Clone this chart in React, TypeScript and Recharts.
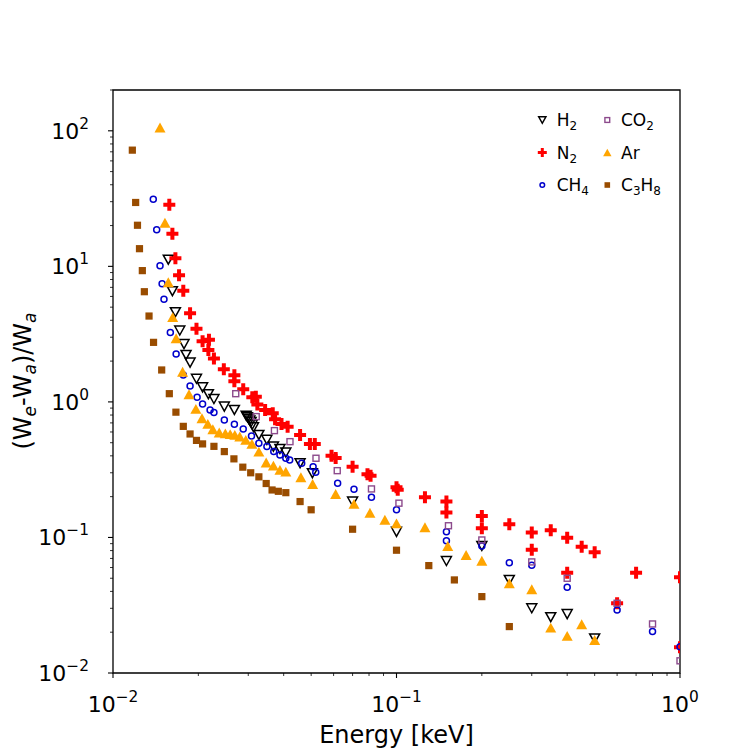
import React from "react";
import { ScatterChart, Scatter, XAxis, YAxis, ReferenceArea, Legend } from "recharts";

// energy [keV], (We-Wa)/Wa
const h2: [number, number][] = [
  [0.01567, 11.2], [0.0162, 6.56], [0.0166, 4.59], [0.0172, 3.36], [0.0178, 2.67], [0.0181, 2.22],
  [0.0187, 1.95], [0.0197, 1.48], [0.0207, 1.28], [0.0217, 1.14], [0.0227, 1.05], [0.0247, 0.923],
  [0.0268, 0.873], [0.0295, 0.79], [0.0298, 0.77], [0.0301, 0.75], [0.0304, 0.73], [0.0307, 0.71],
  [0.031, 0.68], [0.0313, 0.65], [0.0327, 0.571], [0.0349, 0.525], [0.0368, 0.468], [0.0388, 0.45],
  [0.0407, 0.423], [0.0457, 0.353], [0.0505, 0.298], [0.07, 0.184], [0.1, 0.11], [0.15, 0.067],
  [0.2, 0.0865], [0.25, 0.0486], [0.3, 0.03], [0.35, 0.0258], [0.4, 0.0272], [0.5, 0.018],
];

const n2: [number, number][] = [
  [0.0158, 28.5], [0.0162, 17.4], [0.0166, 11.5], [0.0171, 8.6], [0.0177, 6.6], [0.0187, 4.5],
  [0.0197, 3.46], [0.0207, 2.8], [0.0218, 2.87], [0.0217, 2.42], [0.0227, 2.09], [0.0246, 1.74],
  [0.0268, 1.57], [0.0268, 1.42], [0.0288, 1.24], [0.031, 1.08], [0.0319, 1.09], [0.0323, 0.955],
  [0.0344, 0.873], [0.0366, 0.826], [0.0373, 0.745], [0.0393, 0.688], [0.0413, 0.657], [0.0457, 0.571],
  [0.0495, 0.49], [0.0515, 0.49], [0.059, 0.4], [0.061, 0.385], [0.07, 0.333], [0.079, 0.292],
  [0.081, 0.285], [0.1, 0.235], [0.101, 0.225], [0.126, 0.198], [0.15, 0.184], [0.15, 0.153],
  [0.2, 0.144], [0.2, 0.117], [0.25, 0.125], [0.3, 0.109], [0.3, 0.081], [0.35, 0.113],
  [0.4, 0.0997], [0.4, 0.055], [0.45, 0.0855], [0.5, 0.0778], [0.6, 0.0327], [0.7, 0.055],
  [1.0, 0.0508], [1.0, 0.0155],
];

const ch4: [number, number][] = [
  [0.01387, 31.3], [0.01426, 18.6], [0.01465, 10.1], [0.0149, 7.43], [0.01513, 5.73], [0.01593, 3.25],
  [0.0167, 2.26], [0.0177, 1.58], [0.0187, 1.31], [0.0198, 1.08], [0.0207, 0.967], [0.022, 0.873],
  [0.0227, 0.834], [0.0247, 0.736], [0.0268, 0.685], [0.0288, 0.632], [0.0308, 0.561], [0.0327, 0.496],
  [0.0349, 0.468], [0.0369, 0.43], [0.0388, 0.406], [0.0407, 0.384], [0.042, 0.373], [0.0463, 0.353],
  [0.0508, 0.333], [0.0519, 0.303], [0.062, 0.251], [0.0708, 0.227], [0.0816, 0.198], [0.1, 0.16],
  [0.15, 0.11], [0.15, 0.0947], [0.2, 0.0865], [0.25, 0.0652], [0.3, 0.0624], [0.4, 0.0429],
  [0.6, 0.0292], [0.8, 0.0202], [1.0, 0.0156],
];

const co2: [number, number][] = [
  [0.0271, 1.15], [0.032, 0.779], [0.0371, 0.614], [0.0421, 0.509], [0.052, 0.384], [0.0618, 0.311],
  [0.0816, 0.228], [0.102, 0.179], [0.1525, 0.122], [0.2, 0.0958], [0.3, 0.066], [0.4, 0.05],
  [0.6, 0.0327], [0.8, 0.023], [1.0, 0.0123],
];

const ar: [number, number][] = [
  [0.01465, 105.7], [0.01525, 21], [0.01567, 7.64], [0.01624, 4.22], [0.0167, 2.95], [0.0176, 1.67],
  [0.01854, 1.14], [0.0196, 0.888], [0.0206, 0.758], [0.0216, 0.688], [0.0225, 0.629], [0.0237, 0.594],
  [0.0249, 0.586], [0.0259, 0.578], [0.0269, 0.571], [0.028, 0.555], [0.0294, 0.525], [0.0309, 0.49],
  [0.0327, 0.43], [0.0347, 0.357], [0.0368, 0.339], [0.0388, 0.315], [0.0407, 0.306], [0.046, 0.278],
  [0.0506, 0.248], [0.061, 0.209], [0.0708, 0.177], [0.0806, 0.152], [0.091, 0.135], [0.1, 0.127],
  [0.126, 0.119], [0.1516, 0.0865], [0.176, 0.0743], [0.2, 0.0674], [0.25, 0.0459], [0.3, 0.0415],
  [0.35, 0.0216], [0.4, 0.0188], [0.45, 0.0229], [0.5, 0.0175],
];

const c3h8: [number, number][] = [
  [0.0117, 72], [0.01202, 29.6], [0.0122, 20.1], [0.0124, 13.5], [0.01269, 9.3], [0.0129, 6.5],
  [0.0134, 4.3], [0.0139, 2.75], [0.01485, 1.72], [0.0158, 1.15], [0.01667, 0.84], [0.0177, 0.66],
  [0.0187, 0.58], [0.0197, 0.52], [0.0207, 0.49], [0.0227, 0.47], [0.0247, 0.43], [0.0267, 0.38],
  [0.0287, 0.33], [0.0306, 0.3], [0.0327, 0.28], [0.0347, 0.25], [0.0364, 0.224], [0.0383, 0.219],
  [0.0407, 0.214], [0.0457, 0.184], [0.05, 0.16], [0.07, 0.115], [0.1, 0.0805], [0.13, 0.062],
  [0.16, 0.0486], [0.2, 0.0366], [0.25, 0.022],
];

const xDecades = [0.01, 0.1, 1];
const yDecades = [0.01, 0.1, 1, 10, 100];
const minorSteps = [2, 3, 4, 5, 6, 7, 8, 9];
const xDomain = [0.01, 1];
const yDomain = [0.01, 200];

const FONT = "DejaVu Sans";
const C = { h2: "#000000", n2: "#ff0000", ch4: "#0000cc", co2: "#8c4a8c", ar: "#ffa500", c3h8: "#994c00" };

const withMinors = (decades: number[], max: number) =>
  decades.flatMap((d) => [d, ...minorSteps.map((m) => +(m * d).toPrecision(3))]).filter((v) => v <= max);

const toPoints = (arr: [number, number][]) => arr.map(([x, y]) => ({ x, y }));

const isMajor = (v: number) => Math.abs(Math.log10(v) - Math.round(Math.log10(v))) < 1e-6;
const expLabel = (v: number) => {
  const e = Math.round(Math.log10(v));
  return e < 0 ? `\u2212${-e}` : `${e}`;
};

// ---- marker shapes ----
const TriDown = ({ cx, cy, s = 5 }: any) => (
  <path d={`M${cx - s},${cy - s * 0.9}L${cx + s},${cy - s * 0.9}L${cx},${cy + s * 0.9}Z`} fill="none" stroke={C.h2} strokeWidth={1.5} strokeLinejoin="miter" />
);
const PlusFilled = ({ cx, cy, h = 6, a = 2 }: any) => (
  <path
    d={`M${cx - a},${cy - h}H${cx + a}V${cy - a}H${cx + h}V${cy + a}H${cx + a}V${cy + h}H${cx - a}V${cy + a}H${cx - h}V${cy - a}H${cx - a}Z`}
    fill={C.n2}
  />
);
const OpenCircle = ({ cx, cy, r = 3 }: any) => <circle cx={cx} cy={cy} r={r} fill="none" stroke={C.ch4} strokeWidth={1.5} />;
const OpenSquare = ({ cx, cy, s = 3 }: any) => (
  <rect x={cx - s} y={cy - s} width={2 * s} height={2 * s} fill="none" stroke={C.co2} strokeWidth={1.4} />
);
const TriUp = ({ cx, cy, s = 5.5 }: any) => (
  <path d={`M${cx},${cy - s * 0.9}L${cx + s},${cy + s * 0.9}L${cx - s},${cy + s * 0.9}Z`} fill={C.ar} />
);
const FilledSquare = ({ cx, cy, s = 3.6 }: any) => (
  <rect x={cx - s} y={cy - s} width={2 * s} height={2 * s} fill={C.c3h8} />
);

// ---- axis ticks ----
const XTick = ({ x, y, payload }: any) => {
  const v = payload.value;
  const major = isMajor(v);
  return (
    <g>
      <line x1={x} x2={x} y1={y} y2={y + (major ? 5 : 3)} stroke="#000" strokeWidth={major ? 1.1 : 0.8} />
      {major && (
        <text x={x} y={y + 39} textAnchor="middle" fontFamily={FONT} fontSize={22} fill="#000">
          <tspan>10</tspan>
          <tspan dy={-10} fontSize={15.4}>{expLabel(v)}</tspan>
        </text>
      )}
    </g>
  );
};

const YTick = ({ x, y, payload }: any) => {
  const v = payload.value;
  const major = isMajor(v);
  return (
    <g>
      <line x1={x} x2={x - (major ? 5 : 3)} y1={y} y2={y} stroke="#000" strokeWidth={major ? 1.1 : 0.8} />
      {major && (
        <text x={x - 24} y={y + 8} textAnchor="end" fontFamily={FONT} fontSize={22} fill="#000">
          <tspan>10</tspan>
          <tspan dy={-10} fontSize={15.4}>{expLabel(v)}</tspan>
        </text>
      )}
    </g>
  );
};

const XLabel = () => (
  <text x={388.5} y={735} textAnchor="middle" fontFamily={FONT} fontSize={24} fill="#000">
    Energy [keV]
  </text>
);

const YLabel = () => (
  <text x={23} y={373} transform="rotate(-90, 23, 373)" textAnchor="middle" fontFamily={FONT} fontSize={24} fill="#000">
    <tspan>(W</tspan>
    <tspan dy={5} fontSize={17} fontStyle="italic">e</tspan>
    <tspan dy={-5}>-W</tspan>
    <tspan dy={5} fontSize={17} fontStyle="italic">a</tspan>
    <tspan dy={-5}>)/W</tspan>
    <tspan dy={5} fontSize={17} fontStyle="italic">a</tspan>
  </text>
);

const legendRows = [
  { key: "h2", name: "H", sub: "2", col: 0, row: 0, M: TriDown, p: { s: 3.6 } },
  { key: "n2", name: "N", sub: "2", col: 0, row: 1, M: PlusFilled, p: { h: 4.5, a: 1.5 } },
  { key: "ch4", name: "CH", sub: "4", col: 0, row: 2, M: OpenCircle, p: { r: 2.3 } },
  { key: "co2", name: "CO", sub: "2", col: 1, row: 0, M: OpenSquare, p: { s: 2.4 } },
  { key: "ar", name: "Ar", sub: "", col: 1, row: 1, M: TriUp, p: { s: 4.2 } },
  { key: "c3h8", name: "C", sub: "3", tail: "H", sub2: "8", col: 1, row: 2, M: FilledSquare, p: { s: 2.8 } },
];

const LegendBox = () => (
  <svg width={150} height={105} style={{ display: "block", overflow: "visible" }}>
    {legendRows.map((r) => {
      const mx = r.col === 0 ? 12.3 : 77.3;
      const tx = r.col === 0 ? 26.7 : 91;
      const my = 20 + r.row * 32.5;
      const M = r.M;
      return (
        <g key={r.key}>
          <M cx={mx} cy={my} {...r.p} />
          <text x={tx} y={my + 6} fontFamily={FONT} fontSize={17} fill="#000">
            <tspan>{r.name}</tspan>
            {r.sub && <tspan dy={4} fontSize={12}>{r.sub}</tspan>}
            {r.tail && <tspan dy={-4}>{r.tail}</tspan>}
            {r.sub2 && <tspan dy={4} fontSize={12}>{r.sub2}</tspan>}
          </text>
        </g>
      );
    })}
  </svg>
);

export default function App() {
  const xTicks = withMinors(xDecades, 1);
  const yTicks = withMinors(yDecades, 200);

  return (
    <ScatterChart width={748} height={748} margin={{ top: 82, right: 76, left: 0, bottom: 0 }}>
      <XAxis
        type="number"
        dataKey="x"
        scale="log"
        domain={xDomain}
        allowDataOverflow
        ticks={xTicks}
        interval={0}
        tick={<XTick />}
        tickLine={false}
        tickSize={0}
        tickMargin={0}
        axisLine={false}
        height={83}
        label={<XLabel />}
      />
      <YAxis
        type="number"
        dataKey="y"
        scale="log"
        domain={yDomain}
        allowDataOverflow
        ticks={yTicks}
        interval={0}
        tick={<YTick />}
        tickLine={false}
        tickSize={0}
        tickMargin={0}
        axisLine={false}
        width={105}
        label={<YLabel />}
      />
      <Legend
        layout="horizontal"
        verticalAlign="middle"
        align="center"
        wrapperStyle={{ position: "absolute", left: 522, top: 92, width: 150, height: 105 }}
        content={() => <LegendBox />}
      />
      <Scatter name="H2" data={toPoints(h2)} isAnimationActive={false} shape={(p: any) => <TriDown cx={p.cx} cy={p.cy} />} />
      <Scatter name="N2" data={toPoints(n2)} isAnimationActive={false} shape={(p: any) => <PlusFilled cx={p.cx} cy={p.cy} />} />
      <Scatter name="CH4" data={toPoints(ch4)} isAnimationActive={false} shape={(p: any) => <OpenCircle cx={p.cx} cy={p.cy} />} />
      <Scatter name="CO2" data={toPoints(co2)} isAnimationActive={false} shape={(p: any) => <OpenSquare cx={p.cx} cy={p.cy} />} />
      <Scatter name="Ar" data={toPoints(ar)} isAnimationActive={false} shape={(p: any) => <TriUp cx={p.cx} cy={p.cy} />} />
      <Scatter name="C3H8" data={toPoints(c3h8)} isAnimationActive={false} shape={(p: any) => <FilledSquare cx={p.cx} cy={p.cy} />} />
      <ReferenceArea x1={0.01} x2={1} y1={0.01} y2={200} fill="none" stroke="#000" strokeWidth={1.3} ifOverflow="visible" />
    </ScatterChart>
  );
}
